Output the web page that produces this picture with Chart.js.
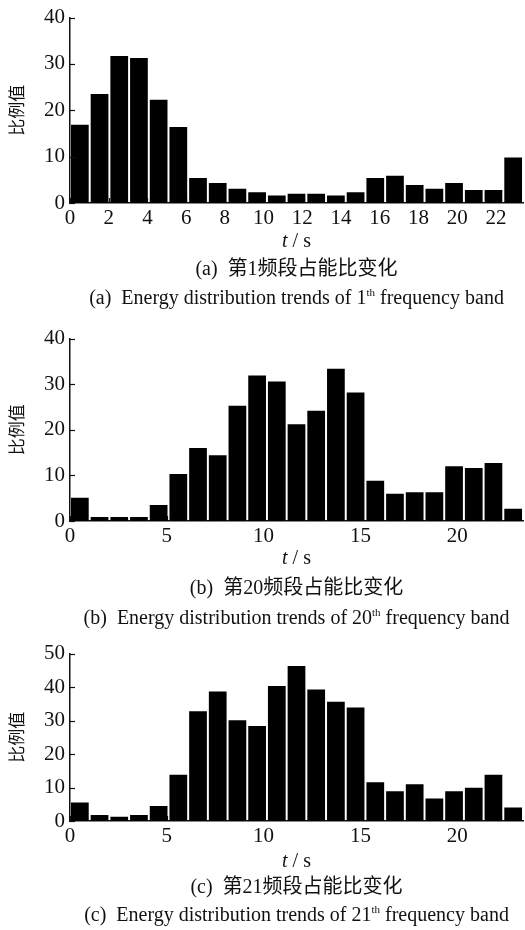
<!DOCTYPE html>
<html>
<head>
<meta charset="utf-8">
<script src="https://cdn.jsdelivr.net/npm/chart.js@4.4.1/dist/chart.umd.min.js"></script>
<style>
  body { margin: 0; width: 525px; height: 930px; background: #fff; position: relative; overflow: hidden; }
  .panel { position: absolute; left: 0; width: 525px; }
  .cap {
    position: absolute; left: 70px; width: 453px; height: 26px; line-height: 26px;
    text-align: center; color: #111; white-space: nowrap;
    font-family: "Liberation Serif", "Noto Sans CJK SC", serif; font-size: 20px;
  }
  .cap sup { font-size: 11px; vertical-align: 8px; line-height: 0; }
</style>
</head>
<body>

<div class="panel" id="p1"><canvas id="c1"></canvas></div>
<div class="cap" style="top:227px"><i>t</i> / s</div>
<div class="cap" style="top:255px">(a)&nbsp; 第1频段占能比变化</div>
<div class="cap" style="top:284px">(a)&nbsp; Energy distribution trends of 1<sup>th</sup> frequency band</div>

<div class="panel" id="p2"><canvas id="c2"></canvas></div>
<div class="cap" style="top:544px"><i>t</i> / s</div>
<div class="cap" style="top:574px">(b)&nbsp; 第20频段占能比变化</div>
<div class="cap" style="top:604px">(b)&nbsp; Energy distribution trends of 20<sup>th</sup> frequency band</div>

<div class="panel" id="p3"><canvas id="c3"></canvas></div>
<div class="cap" style="top:847px"><i>t</i> / s</div>
<div class="cap" style="top:873px">(c)&nbsp; 第21频段占能比变化</div>
<div class="cap" style="top:901px">(c)&nbsp; Energy distribution trends of 21<sup>th</sup> frequency band</div>

<script>
// --- données ---
const bins = ['1','2','3','4','5','6','7','8','9','10','11','12','13','14','15','16','17','18','19','20','21','22','23'];

const band1  = [16.9, 23.5, 31.7, 31.3, 22.3, 16.4, 5.4, 4.3, 3.1, 2.3, 1.6, 2.0, 2.0, 1.6, 2.3, 5.4, 5.9, 3.9, 3.1, 4.3, 2.8, 2.8, 9.8];
const band20 = [5.1, 0.9, 0.9, 0.9, 3.5, 10.3, 16.0, 14.4, 25.3, 31.9, 30.6, 21.2, 24.2, 33.4, 28.2, 8.8, 6.0, 6.3, 6.3, 12.0, 11.6, 12.7, 2.7];
const band21 = [5.5, 1.8, 1.3, 1.8, 4.5, 13.8, 32.8, 38.7, 30.1, 28.4, 40.3, 46.3, 39.3, 35.6, 33.9, 11.6, 8.9, 11.0, 6.7, 8.9, 9.9, 13.8, 4.0];

const xTicks1 = [0, 2, 4, 6, 8, 10, 12, 14, 16, 18, 20, 22];
const xTicks2 = [0, 5, 10, 15, 20];
const tMax = 23.4;

const yTicks1 = [0, 10, 20, 30, 40];
const yTicks3 = [0, 10, 20, 30, 40, 50];

const yTitle = '比例值';

// petits traits de graduation vers l'intérieur
const innerTicks = {
  id: 'innerTicks',
  afterDraw(chart) {
    const ctx = chart.ctx;
    const ys = chart.scales.y;
    const a = chart.chartArea;
    ctx.save();
    ctx.strokeStyle = '#111';
    ctx.lineWidth = 1.2;
    ys.ticks.forEach(t => {
      const py = Math.round(ys.getPixelForValue(t.value)) + 0.5;
      ctx.beginPath(); ctx.moveTo(a.left, py); ctx.lineTo(a.left + 5, py); ctx.stroke();
    });
    ctx.restore();
  },
  beforeDatasetsDraw(chart) {
    const ctx = chart.ctx;
    const xs = chart.scales.x2;
    const a = chart.chartArea;
    ctx.save();
    ctx.strokeStyle = '#111';
    ctx.lineWidth = 1.2;
    xs.ticks.forEach(t => {
      const px = Math.round(xs.getPixelForValue(t.value)) + 0.5;
      ctx.beginPath(); ctx.moveTo(px, a.bottom); ctx.lineTo(px, a.bottom - 5); ctx.stroke();
    });
    ctx.restore();
  }
};

function makeChart(id, panelId, top, plotH, data, xTicks, yTicks) {
  const axisH = 34;
  const canvasH = 16 + plotH + axisH;
  const panel = document.getElementById(panelId);
  panel.style.top = top + 'px';
  panel.style.height = canvasH + 'px';
  const cv = document.getElementById(id);
  cv.width = 525; cv.height = canvasH;
  cv.style.width = '525px'; cv.style.height = canvasH + 'px';

  const tickFont = { family: '"Liberation Serif", serif', size: 21 };

  return new Chart(cv.getContext('2d'), {
    type: 'bar',
    data: {
      labels: bins,
      datasets: [{
        data: data,
        backgroundColor: '#000',
        borderWidth: 0,
        barPercentage: 0.9,
        categoryPercentage: 1.0,
        xAxisID: 'x',
        yAxisID: 'y'
      }]
    },
    options: {
      responsive: false,
      animation: false,
      devicePixelRatio: 1,
      layout: { padding: { top: 16, right: 2, left: 0, bottom: 0 } },
      plugins: { legend: { display: false }, tooltip: { enabled: false } },
      scales: {
        x: { type: 'category', display: false, offset: true },
        x2: {
          type: 'linear', axis: 'x', position: 'bottom',
          min: 0, max: tMax, offset: false,
          grid: { display: false, drawTicks: false, offset: false },
          border: { display: true, color: '#111', width: 1.5 },
          afterBuildTicks: s => { s.ticks = xTicks.map(v => ({ value: v })); },
          afterFit: s => { s.height = axisH; },
          ticks: { font: tickFont, color: '#111', padding: 3, maxRotation: 0, autoSkip: false }
        },
        y: {
          min: 0, max: yTicks[yTicks.length - 1],
          grid: { display: false, drawTicks: false },
          border: { display: true, color: '#111', width: 1.5 },
          afterBuildTicks: s => { s.ticks = yTicks.map(v => ({ value: v })); },
          afterFit: s => { s.width = 70; },
          ticks: { font: tickFont, color: '#111', padding: 5 },
          title: {
            display: true, text: yTitle, color: '#111',
            font: { family: '"Noto Sans CJK SC", sans-serif', size: 17 },
            padding: { top: 6, bottom: 0 }
          }
        }
      }
    },
    plugins: [innerTicks]
  });
}

makeChart('c1', 'p1', 0,   187, band1,  xTicks1, yTicks1);
makeChart('c2', 'p2', 321, 184, band20, xTicks2, yTicks1);
makeChart('c3', 'p3', 636, 169, band21, xTicks2, yTicks3);
</script>
</body>
</html>
